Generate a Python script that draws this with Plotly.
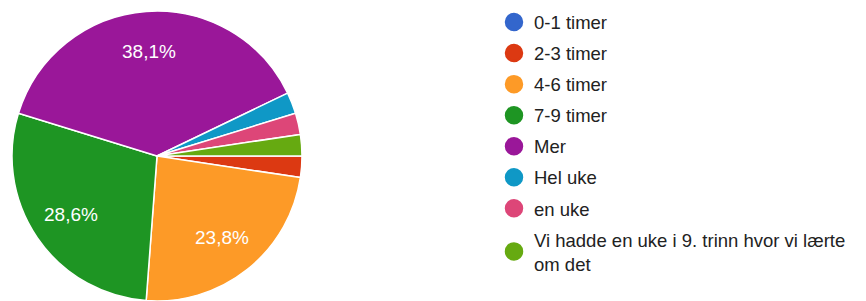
import math
import plotly.graph_objects as go

categories = ["0-1 timer", "2-3 timer", "4-6 timer", "7-9 timer", "Mer",
              "Hel uke", "en uke", "Vi hadde en uke i 9. trinn hvor vi lærte om det"]
legend_names = ["0-1 timer", "2-3 timer", "4-6 timer", "7-9 timer", "Mer",
                "Hel uke", "en uke", "Vi hadde en uke i 9. trinn hvor vi lærte<br>om det"]
counts = [0, 1, 10, 12, 16, 1, 1, 1]
colors = ["#3366cc", "#dc3912", "#fd9a27", "#1e9523", "#9a1799",
          "#0f98c6", "#dd4678", "#66aa11"]

total = sum(counts)

W, H = 866, 301
FONT = "Liberation Sans, Arial, Helvetica, sans-serif"

# pie geometry (pixels from top-left)
CX, CY, R = 157, 156, 145

fig = go.Figure()
fig.add_trace(go.Pie(
    labels=categories, values=counts,
    textinfo="none",
    sort=False, direction="clockwise", rotation=90,
    marker=dict(colors=colors, line=dict(color="white", width=1.5)),
    showlegend=False, hoverinfo="skip",
    domain=dict(x=[(CX - R) / W, (CX + R) / W],
                y=[max(0, (H - CY - R) / H), min(1, (H - CY + R) / H)]),
))

# percentage labels at 0.72 R along each slice's mid angle (clockwise from 3 o'clock)
cum = 0
for c in counts:
    p = c / total
    mid = (cum + p / 2) * 2 * math.pi
    cum += p
    if p * 100 < 10:
        continue
    lx = CX + 0.72 * R * math.cos(mid)
    ly = CY + 0.72 * R * math.sin(mid)
    fig.add_annotation(
        x=lx / W, y=1 - ly / H, xref="paper", yref="paper",
        text=f"{p * 100:.1f}".replace(".", ",") + "%", showarrow=False,
        font=dict(color="white", size=19, family=FONT),
        xanchor="center", yanchor="middle",
    )

for i, (name, col) in enumerate(zip(legend_names, colors)):
    fig.add_trace(go.Scatter(
        x=[None], y=[None], mode="markers", name=name,
        legendgroup=f"g{i}",
        marker=dict(color=col, size=16, symbol="circle", line=dict(color=col, width=2.5)),
        hoverinfo="skip",
    ))

fig.update_layout(
    width=W, height=H,
    margin=dict(l=0, r=0, t=0, b=0),
    paper_bgcolor="white", plot_bgcolor="white",
    xaxis=dict(visible=False), yaxis=dict(visible=False),
    hovermode=False,
    legend=dict(
        x=(513 - 19) / W, xanchor="left", y=1 - 3.5 / H, yanchor="top",
        font=dict(size=18.5, color="#222222", family=FONT),
        tracegroupgap=4, itemsizing="trace", bgcolor="rgba(0,0,0,0)",
        maxheight=1000,
    ),
    showlegend=True,
)
fig.write_html(
    "out.html",
    config={"displayModeBar": False},
    post_script="document.body.style.margin='0';document.body.style.overflow='hidden';",
)
